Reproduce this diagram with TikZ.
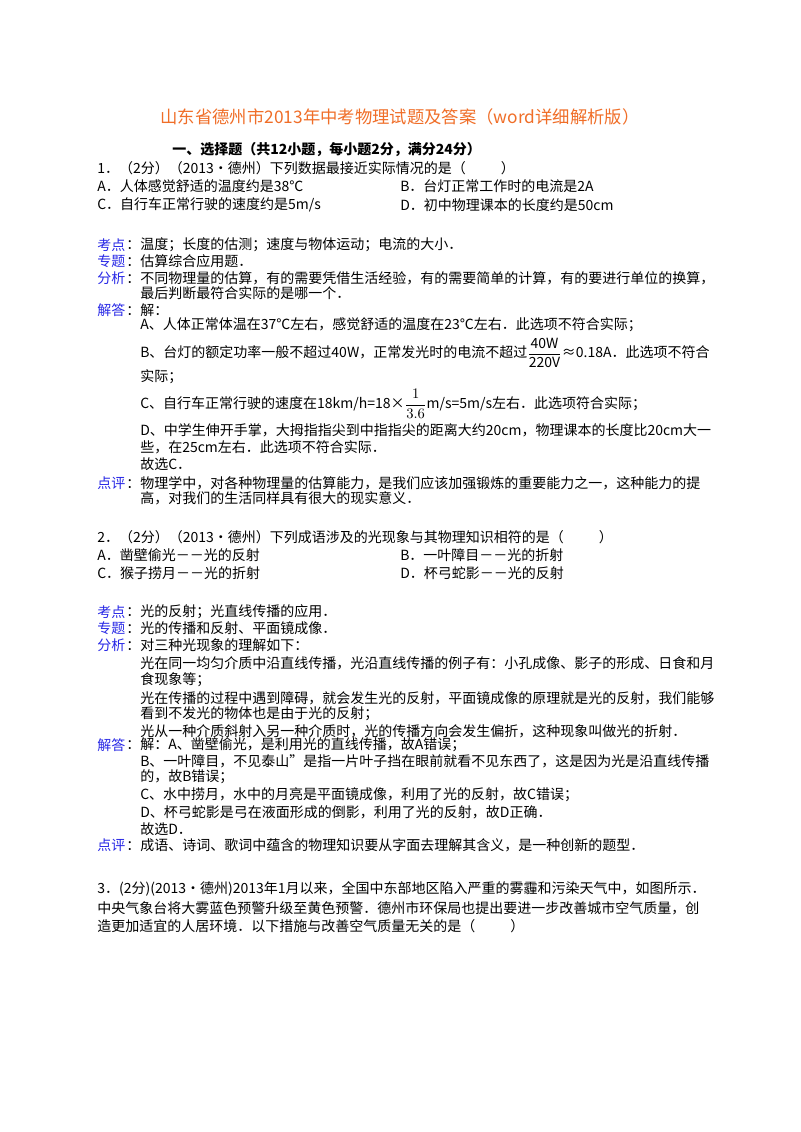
\documentclass[tikz,border=0pt]{standalone}
\usepackage{fontspec}
\setmainfont{Noto Sans CJK SC}
\definecolor{lab}{RGB}{40,40,230}
\definecolor{ttl}{RGB}{240,110,40}
\begin{document}
\begin{tikzpicture}[x=0.75pt,y=-0.75pt,
  t/.style={anchor=west,inner sep=0,font=\fontsize{10.5}{12}\selectfont},
  lb/.style={t,text=lab}]
\useasboundingbox[fill=white] (0,0) rectangle (800,1132);
\node[anchor=center,inner sep=0,text=ttl,font=\fontsize{13}{15}\selectfont] (title) at (400,117) {山东省德州市2013年中考物理试题及答案（word详细解析版）};
\node[t,font=\fontsize{10.5}{12}\selectfont\bfseries] (hd) at (172,150) {一、选择题（共12小题，每小题2分，满分24分）};
\node[t] (q1) at (97,168) {1．（2分）（2013•德州）下列数据最接近实际情况的是（\hspace{2.5em}）};
\node[t] (q1a) at (97,186) {A．人体感觉舒适的温度约是38℃};
\node[t] (q1b) at (400,186) {B．台灯正常工作时的电流是2A};
\node[t] (q1c) at (97,205) {C．自行车正常行驶的速度约是5m/s};
\node[t] (q1d) at (400,205) {D．初中物理课本的长度约是50cm};
\node[lb] (k1) at (97,245) {考点};\node[t] (k1t) at (126,245) {：温度；长度的估测；速度与物体运动；电流的大小．};
\node[lb] (z1) at (97,261) {专题};\node[t] (z1t) at (126,261) {：估算综合应用题．};
\node[lb] (f1) at (97,278) {分析};\node[t] (f1t) at (126,278) {：不同物理量的估算，有的需要凭借生活经验，有的需要简单的计算，有的要进行单位的换算，};
\node[t] (f1u) at (140,293) {最后判断最符合实际的是哪一个．};
\node[lb] (j1) at (97,310) {解答};\node[t] (j1t) at (126,310) {：解：};
\node[t] (a1) at (140,325) {A、人体正常体温在37℃左右，感觉舒适的温度在23℃左右．此选项不符合实际；};
\node[t] (b1) at (140,353) {B、台灯的额定功率一般不超过40W，正常发光时的电流不超过$\displaystyle\frac{\mathrm{40W}}{\mathrm{220V}}$≈0.18A．此选项不符合};
\node[t] (b1u) at (140,377) {实际；};
\node[t] (c1) at (140,404) {C、自行车正常行驶的速度在18km/h=18×$\displaystyle\frac{1}{3.6}$m/s=5m/s左右．此选项符合实际；};
\node[t] (d1) at (140,430) {D、中学生伸开手掌，大拇指指尖到中指指尖的距离大约20cm，物理课本的长度比20cm大一};
\node[t] (d1u) at (140,447) {些，在25cm左右．此选项不符合实际．};
\node[t] (g1) at (140,464) {故选C．};
\node[lb] (p1) at (97,483) {点评};\node[t] (p1t) at (126,483) {：物理学中，对各种物理量的估算能力，是我们应该加强锻炼的重要能力之一，这种能力的提};
\node[t] (p1u) at (140,498) {高，对我们的生活同样具有很大的现实意义．};
\node[t] (q2) at (97,537) {2．（2分）（2013•德州）下列成语涉及的光现象与其物理知识相符的是（\hspace{2.5em}）};
\node[t] (q2a) at (97,555) {A．凿壁偷光－－光的反射};
\node[t] (q2b) at (400,555) {B．一叶障目－－光的折射};
\node[t] (q2c) at (97,573) {C．猴子捞月－－光的折射};
\node[t] (q2d) at (400,573) {D．杯弓蛇影－－光的反射};
\node[lb] (k2) at (97,612) {考点};\node[t] (k2t) at (126,612) {：光的反射；光直线传播的应用．};
\node[lb] (z2) at (97,628) {专题};\node[t] (z2t) at (126,628) {：光的传播和反射、平面镜成像．};
\node[lb] (f2) at (97,645) {分析};\node[t] (f2t) at (126,645) {：对三种光现象的理解如下：};
\node[t] (f2a) at (140,663) {光在同一均匀介质中沿直线传播，光沿直线传播的例子有：小孔成像、影子的形成、日食和月};
\node[t] (f2b) at (140,680) {食现象等；};
\node[t] (f2c) at (140,698) {光在传播的过程中遇到障碍，就会发生光的反射，平面镜成像的原理就是光的反射，我们能够};
\node[t] (f2d) at (140,714) {看到不发光的物体也是由于光的反射；};
\node[t] (f2e) at (140,731) {光从一种介质斜射入另一种介质时，光的传播方向会发生偏折，这种现象叫做光的折射．};
\node[lb] (j2) at (97,745) {解答};\node[t] (j2t) at (126,745) {：解：A、凿壁偷光，是利用光的直线传播，故A错误；};
\node[t] (b2) at (140,761) {B、一叶障目，不见泰山”是指一片叶子挡在眼前就看不见东西了，这是因为光是沿直线传播};
\node[t] (b2u) at (140,777) {的，故B错误；};
\node[t] (c2) at (140,795) {C、水中捞月，水中的月亮是平面镜成像，利用了光的反射，故C错误；};
\node[t] (d2) at (140,812) {D、杯弓蛇影是弓在液面形成的倒影，利用了光的反射，故D正确．};
\node[t] (g2) at (140,829) {故选D．};
\node[lb] (p2) at (97,845) {点评};\node[t] (p2t) at (126,845) {：成语、诗词、歌词中蕴含的物理知识要从字面去理解其含义，是一种创新的题型．};
\node[t] (q3) at (97,889) {3．(2分)(2013•德州)2013年1月以来，全国中东部地区陷入严重的雾霾和污染天气中，如图所示．};
\node[t] (q3b) at (97,908) {中央气象台将大雾蓝色预警升级至黄色预警．德州市环保局也提出要进一步改善城市空气质量，创};
\node[t] (q3c) at (97,926) {造更加适宜的人居环境．以下措施与改善空气质量无关的是（\hspace{2.5em}）};
\end{tikzpicture}
\end{document}
